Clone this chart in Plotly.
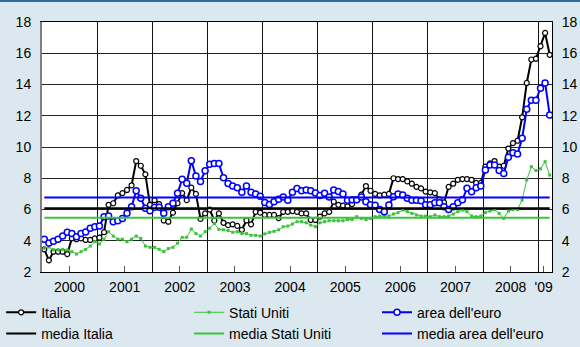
import plotly.graph_objects as go

# monthly series, Jan 2000 - Mar 2009
italia = [
    3.45, 2.75, 3.3, 3.3, 3.3, 3.15, 4.15, 4.1, 4.15, 4.05, 4.05, 4.15,
    4.2, 4.55, 6.3, 6.4, 6.9, 7.05, 7.25, 7.55, 9.1, 8.8, 8.25, 6.3,
    6.6, 6.35, 5.3, 5.22, 5.8, 6.4, 7.05, 6.6, 7.4, 7.0, 5.4, 5.75,
    6.0, 5.3, 5.75, 5.15, 5.0, 5.05, 4.95, 4.7, 5.3, 5.05, 5.85, 5.8,
    5.65, 5.65, 5.65, 5.45, 5.85, 5.85, 5.9, 5.85, 5.75, 5.75, 5.33, 5.33,
    5.55, 5.75, 5.85, 6.5, 6.3, 6.25, 6.2, 6.35, 6.6, 6.95, 7.5, 7.2,
    7.0, 6.9, 6.95, 7.0, 8.0, 7.95, 7.95, 7.8, 7.65, 7.45, 7.35, 7.15,
    7.1, 7.05, 6.65, 6.45, 7.45, 7.65, 7.9, 7.95, 7.95, 7.9, 7.7, 7.7,
    8.75, 8.95, 9.1, 8.75, 8.8, 9.9, 10.25, 10.4, 11.9, 14.1, 15.6, 15.65,
    16.45, 17.3, 15.9,
]
stati_uniti = [
    3.52, 3.6, 3.41, 3.41, 3.45, 3.41, 3.3, 3.15, 3.3, 3.45, 3.66, 3.94,
    3.8, 4.1, 4.58, 4.3, 4.1, 4.1, 3.94, 4.1, 4.3, 4.15, 3.66, 3.58,
    3.58, 3.45, 3.3, 3.5, 3.58, 3.84, 4.22, 4.22, 4.75, 4.46, 4.3, 4.58,
    4.8, 5.1, 4.73, 4.7, 4.65, 4.54, 4.58, 4.46, 4.46, 4.35, 4.35, 4.3,
    4.44, 4.54, 4.6, 4.7, 4.9, 4.94, 5.07, 5.22, 5.22, 5.15, 5.0, 4.9,
    5.15, 5.22, 5.28, 5.28, 5.28, 5.28, 5.36, 5.36, 5.54, 5.43, 5.36, 5.43,
    5.54, 5.58, 5.6, 5.58, 5.71, 5.8, 5.97, 5.86, 5.75, 5.65, 5.58, 5.58,
    5.54, 5.65, 5.54, 5.54, 5.58, 5.71, 5.86, 5.97, 5.86, 5.58, 5.54, 5.58,
    5.8, 5.9, 6.0, 5.75, 5.43, 5.9, 6.0, 6.0, 6.6, 7.89, 8.74, 8.5,
    8.6, 9.06, 8.2,
]
area_euro = [
    4.1, 3.86, 3.97, 4.1, 4.3, 4.54, 4.46, 4.26, 4.46, 4.56, 4.8, 4.9,
    4.94, 5.54, 5.58, 5.22, 5.28, 5.43, 5.76, 6.18, 7.2, 6.72, 6.08, 5.92,
    6.14, 6.14, 5.76, 6.18, 6.4, 7.04, 7.93, 7.68, 9.12, 8.14, 7.8, 8.48,
    8.9, 8.95, 8.95, 8.03, 7.67, 7.5, 7.4, 7.1, 7.5, 7.1, 7.0, 6.85,
    6.45, 6.32, 6.5, 6.65, 6.8, 6.6, 7.1, 7.35, 7.2, 7.25, 7.2, 7.05,
    6.9, 7.04, 6.8, 7.25, 7.15, 7.0, 6.6, 6.62, 6.62, 6.8, 6.5, 6.3,
    6.28, 6.0, 5.86, 6.29, 6.82, 7.0, 6.93, 6.72, 6.6, 6.6, 6.56, 6.3,
    6.3, 6.44, 6.44, 6.18, 6.0, 6.18, 6.44, 6.62, 7.36, 7.14, 7.4, 7.5,
    8.53, 8.85, 8.85, 8.5, 8.3, 9.34, 9.64, 9.55, 10.56, 12.41, 13.0, 13.0,
    13.76, 14.1, 12.05,
]
media_italia = 6.08
media_stati_uniti = 5.47
media_area_euro = 6.77

year_labels = ["2000", "2001", "2002", "2003", "2004", "2005", "2006", "2007", "2008", "'09"]
year_label_pos = [2000.5, 2001.5, 2002.5, 2003.5, 2004.5, 2005.5, 2006.5, 2007.5, 2008.5, 2009.1]
year_bounds = list(range(2001, 2010))
y_ticks = [2, 4, 6, 8, 10, 12, 14, 16, 18]

months = [2000 + (i + 0.5) / 12 for i in range(len(italia))]

BLACK = "#000000"
GREEN = "#3cc23c"
BLUE = "#0000ff"
BG = "#dbe8ef"

fig = go.Figure()

# one legend column per country: series on top, its average below
fig.add_trace(go.Scatter(
    x=months, y=italia, name="Italia", mode="lines+markers", legend="legend",
    line=dict(color=BLACK, width=2),
    marker=dict(symbol="circle", size=5, color="white", line=dict(color=BLACK, width=1.2)),
))
fig.add_trace(go.Scatter(
    x=months, y=stati_uniti, name="Stati Uniti", mode="lines+markers", legend="legend2",
    line=dict(color=GREEN, width=1),
    marker=dict(symbol="square", size=3, color=GREEN),
))
fig.add_trace(go.Scatter(
    x=months, y=area_euro, name="area dell'euro", mode="lines+markers", legend="legend3",
    line=dict(color=BLUE, width=2),
    marker=dict(symbol="circle", size=6, color="white", line=dict(color=BLUE, width=1.5)),
))

x_ends = [months[0], months[-1]]
for name, val, col, leg in [
    ("media Italia", media_italia, BLACK, "legend"),
    ("media Stati Uniti", media_stati_uniti, GREEN, "legend2"),
    ("media area dell'euro", media_area_euro, BLUE, "legend3"),
]:
    fig.add_trace(go.Scatter(
        x=x_ends, y=[val, val], name=name, mode="lines", legend=leg,
        line=dict(color=col, width=2), yaxis="y2",
    ))

legend_style = dict(
    orientation="v", xref="container", yref="container", y=0.145,
    xanchor="left", yanchor="top", itemwidth=30, tracegroupgap=0,
    font=dict(size=14), bgcolor="rgba(0,0,0,0)", traceorder="normal",
)

fig.update_layout(
    width=580, height=347,
    margin=dict(l=42, r=28, t=22, b=75, autoexpand=False),
    paper_bgcolor=BG, plot_bgcolor="white",
    font=dict(family="Liberation Sans, Arial, sans-serif", size=14, color="black"),
    showlegend=True,
    legend=dict(x=0.002, **legend_style),
    legend2=dict(x=0.326, **legend_style),
    legend3=dict(x=0.650, **legend_style),
    xaxis=dict(
        range=[2000, 2009.25], tickmode="array", tickvals=year_label_pos, ticktext=year_labels,
        ticks="inside", ticklen=6, tickcolor="#555", showgrid=False, zeroline=False,
        showline=True, linecolor=BLACK, linewidth=1, mirror=True,
        minor=dict(tickmode="array", tickvals=year_bounds, showgrid=True,
                   gridcolor="#111", gridwidth=1, ticks=""),
        ticklabelstandoff=2,
    ),
    xaxis2=dict(
        overlaying="x", matches="x", side="bottom", anchor="y",
        tickmode="linear", tick0=2000, dtick=1 / 12, ticks="inside", ticklen=3,
        tickcolor="#555", showticklabels=False, showgrid=False, zeroline=False,
    ),
    yaxis=dict(
        range=[2, 18], tickvals=y_ticks, showgrid=True, gridcolor="#222", gridwidth=1,
        zeroline=False, showline=True, linecolor="#808080", linewidth=2,
        ticks="", ticklabelstandoff=6,
    ),
    yaxis2=dict(
        range=[2, 18], tickvals=y_ticks, overlaying="y", side="right", matches="y",
        showgrid=False, zeroline=False, showline=True, linecolor=BLACK, linewidth=1,
        ticks="", ticklabelstandoff=6,
    ),
    shapes=[dict(type="line", xref="paper", yref="paper",
                 x0=-42 / 510, x1=1 + 28 / 510, y0=1 + 21 / 250, y1=1 + 21 / 250,
                 line=dict(color="#2d6d9c", width=2))],
)

fig.write_html("out.html", config={"displayModeBar": False},
               post_script="document.body.style.margin='0px';")
